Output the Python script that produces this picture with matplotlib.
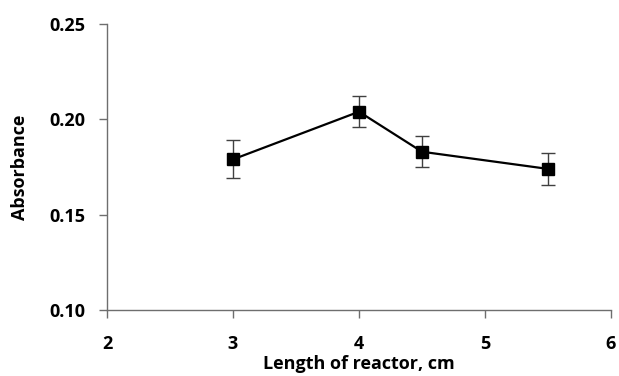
import matplotlib
matplotlib.use("Agg")
import matplotlib.pyplot as plt

length_cm = [3, 4, 4.5, 5.5]
absorbance = [0.179, 0.204, 0.183, 0.174]
abs_err = [0.010, 0.008, 0.008, 0.0085]

x_ticks = [2, 3, 4, 5, 6]
y_ticks = [0.10, 0.15, 0.20, 0.25]
y_tick_labels = ['0.10', '0.15', '0.20', '0.25']

plt.rcParams['font.family'] = ['Open Sans', 'DejaVu Sans']
plt.rcParams['font.weight'] = 'bold'

fig = plt.figure(figsize=(6.19, 3.76), dpi=100)
ax = fig.add_axes([107/619, 1 - 310/376, (611 - 107)/619, (310 - 24)/376])

ax.errorbar(length_cm, absorbance, yerr=abs_err, color='black', lw=1.6,
            marker='s', markersize=8.5, ecolor='#404040', elinewidth=1.0,
            capsize=4.8, capthick=1.0, zorder=3)

ax.set_xlim(2, 6)
ax.set_ylim(0.10, 0.25)
ax.set_xticks(x_ticks)
ax.set_yticks(y_ticks)
ax.set_yticklabels(y_tick_labels)

for side in ['top', 'right']:
    ax.spines[side].set_visible(False)
for side in ['left', 'bottom']:
    ax.spines[side].set_color('#6e6e6e')
    ax.spines[side].set_linewidth(1.0)

ax.tick_params(direction='out', length=5.8, width=1.0, color='#6e6e6e',
               labelsize=13)
ax.tick_params(axis='y', pad=10)
ax.tick_params(axis='x', pad=12)
for lbl in ax.get_xticklabels() + ax.get_yticklabels():
    lbl.set_fontweight('bold')

ax.set_xlabel('Length of reactor, cm', fontsize=13, fontweight='bold', va='center')
ax.set_ylabel('Absorbance', fontsize=13, fontweight='bold', va='center')
ax.xaxis.set_label_coords(0.5, -0.19)
ax.yaxis.set_label_coords(-0.173, 0.5)

fig.savefig('out.png', dpi=100)
